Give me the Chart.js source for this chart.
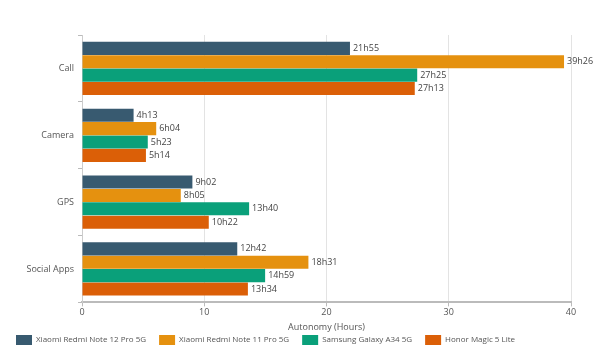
<!DOCTYPE html>
<html>
<head>
<meta charset="utf-8">
<script src="https://cdn.jsdelivr.net/npm/chart.js@4/dist/chart.umd.min.js"></script>
<style>
  html, body { margin: 0; padding: 0; background: #fff; }
  #wrap { width: 600px; height: 351px; position: relative; }
</style>
</head>
<body>
<div id="wrap"><canvas id="graphCanvas"></canvas></div>
<script>
var categories = ['Call', 'Camera', 'GPS', 'Social Apps'];
var seriesNames = ['Xiaomi Redmi Note 12 Pro 5G', 'Xiaomi Redmi Note 11 Pro 5G', 'Samsung Galaxy A34 5G', 'Honor Magic 5 Lite'];
var colors = ['#385a70', '#e5910f', '#0aa07a', '#db5f07'];

// autonomy in hours (decimal) and the text shown next to each bar
var note12 = [21.92, 4.22, 9.03, 12.70];
var note11 = [39.43, 6.07, 8.08, 18.52];
var a34 = [27.42, 5.38, 13.67, 14.98];
var magic5 = [27.22, 5.23, 10.37, 13.57];

var note12Labels = ['21h55', '4h13', '9h02', '12h42'];
var note11Labels = ['39h26', '6h04', '8h05', '18h31'];
var a34Labels = ['27h25', '5h23', '13h40', '14h59'];
var magic5Labels = ['27h13', '5h14', '10h22', '13h34'];

var xTicks = [0, 10, 20, 30, 40];

var values = [note12, note11, a34, magic5];
var labels = [note12Labels, note11Labels, a34Labels, magic5Labels];

var datasets = [];
for (i = 0; i < values.length; i++) {
  datasets.push({
    label: seriesNames[i],
    data: values[i],
    backgroundColor: colors[i],
    borderWidth: 0,
    categoryPercentage: 0.8,
    barPercentage: 0.98
  });
}

// writes the time text at the end of every bar
var barText = {
  id: 'barText',
  afterDatasetsDraw: function(chart) {
    var ctx = chart.ctx;
    ctx.save();
    ctx.font = '9px "Open Sans", sans-serif';
    ctx.fillStyle = '#444';
    ctx.textBaseline = 'middle';
    ctx.textAlign = 'left';
    chart.data.datasets.forEach(function(ds, i) {
      var meta = chart.getDatasetMeta(i);
      meta.data.forEach(function(bar, j) {
        ctx.fillText(labels[i][j], bar.x + 3, bar.y);
      });
    });
    ctx.restore();
  }
};

// legend sits closer to the axis title
var tightLegend = {
  id: 'tightLegend',
  beforeInit: function(chart) {
    var fit = chart.legend.fit;
    chart.legend.fit = function() {
      fit.call(this);
      this.height -= 15;
    };
  },
  afterLayout: function(chart) {
    chart.legend.top -= 11;
    chart.legend.bottom = chart.height;
  }
};

Chart.defaults.font.family = '"Open Sans", sans-serif';
Chart.defaults.font.size = 9;
Chart.defaults.color = '#555';

new Chart(document.getElementById('graphCanvas'), {
  type: 'bar',
  data: { labels: categories, datasets: datasets },
  plugins: [barText, tightLegend],
  options: {
    indexAxis: 'y',
    responsive: true,
    maintainAspectRatio: false,
    animation: false,
    layout: { padding: { top: 35, right: 29, left: 3, bottom: 0 } },
    plugins: {
      tooltip: { enabled: false },
      legend: {
        position: 'bottom',
        align: 'start',
        labels: { boxWidth: 16, boxHeight: 10, padding: 13, font: { size: 8 }, color: '#555' }
      }
    },
    scales: {
      x: {
        min: 0,
        max: 40,
        afterBuildTicks: function(axis) {
          axis.ticks = xTicks.map(function(v) { return { value: v }; });
        },
        grid: { color: '#e3e3e3', tickLength: 4, tickColor: '#bbb' },
        border: { color: '#bbb', width: 2 },
        ticks: { padding: 1, color: '#555', font: { size: 9 } },
        title: { display: true, text: 'Autonomy (Hours)', color: '#555', font: { size: 9 }, padding: { top: 3, bottom: 0 } }
      },
      y: {
        afterFit: function(axis) { axis.width = 79; },
        grid: { drawOnChartArea: false, tickLength: 4, tickColor: '#bbb' },
        border: { color: '#ccc', width: 1 },
        ticks: { padding: 4, color: '#555', font: { size: 9 } }
      }
    }
  }
});
</script>
</body>
</html>
